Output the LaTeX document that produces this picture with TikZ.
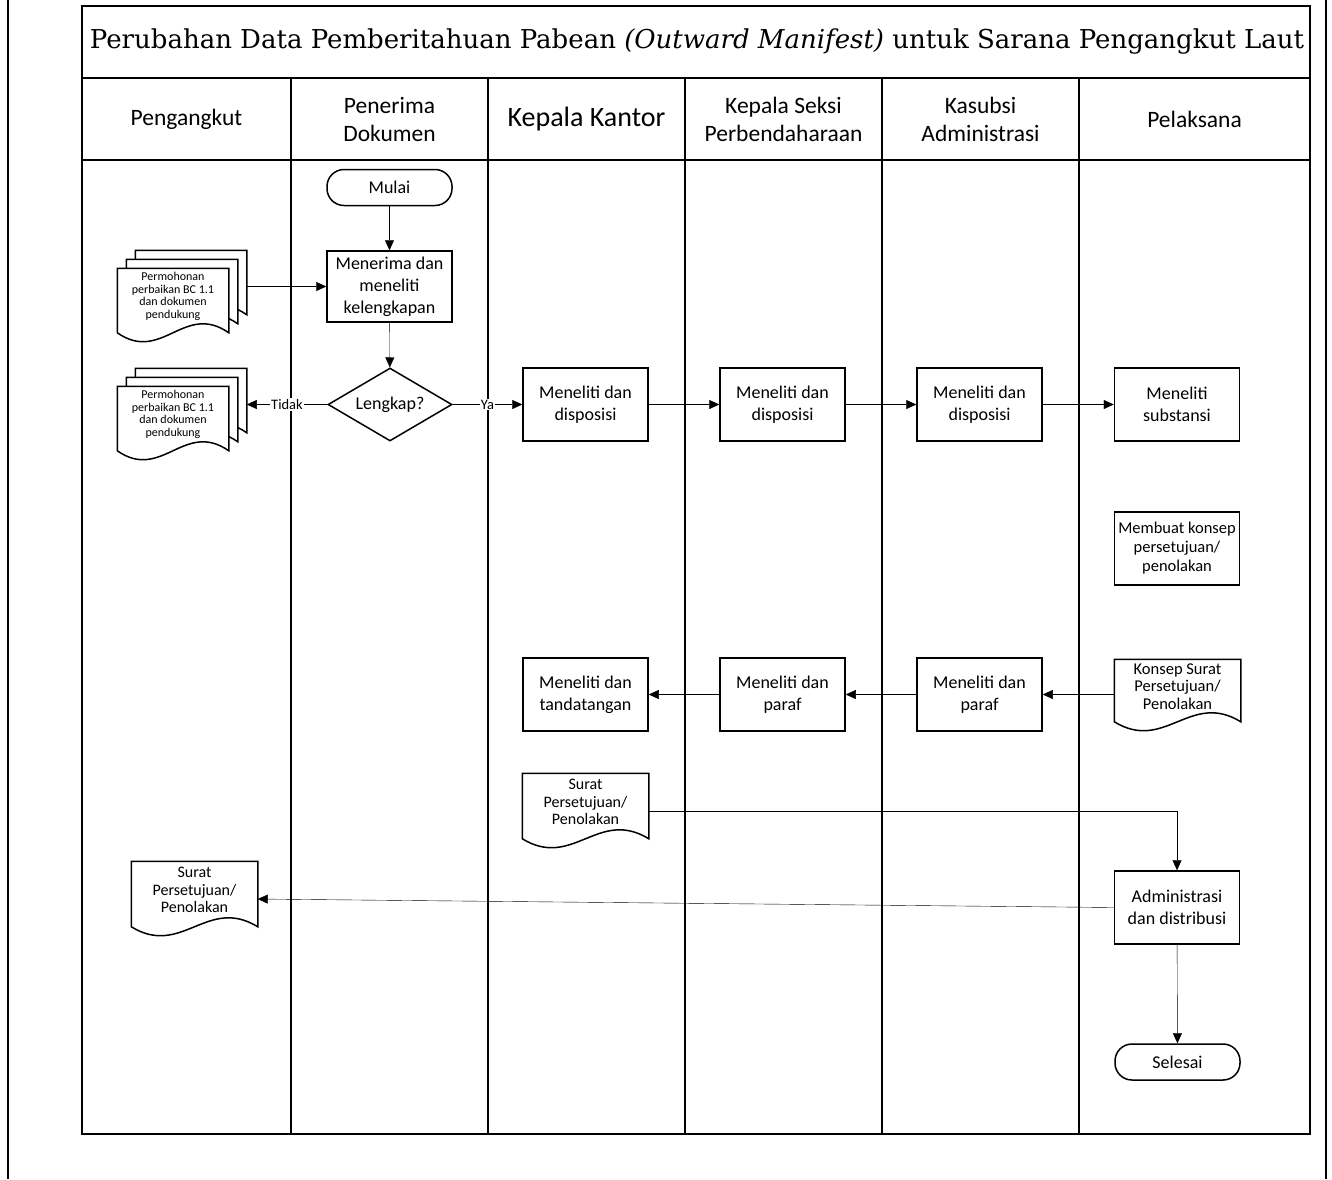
\documentclass[tikz,border=0pt]{standalone}
\usepackage{fontspec}
\setmainfont{Carlito}
\newfontfamily\titlefont{DejaVu Serif}
\usepackage{tikz}
\usetikzlibrary{positioning, shapes.geometric, arrows.meta, calc}
\pgfdeclarelayer{background}
\pgfsetlayers{background,main}

% outline of a document symbol around a node (bottom edge dropped 8pt below the text box)
\newcommand{\docshape}[1]{%
  \draw[docline] ($(#1.south west)+(0,8)$) -- (#1.north west) -- (#1.north east) -- ($(#1.south east)+(0,8)$)
    .. controls ($(#1.south east)!0.4!(#1.south west)+(0,-23)$) and ($(#1.south west)!0.4!(#1.south east)+(0,39)$) .. ($(#1.south west)+(0,8)$) -- cycle;}

\begin{document}
\begin{tikzpicture}[x=1pt, y=-1pt, >={Triangle[length=10pt,width=9pt]}, line width=1.5pt]

% Define block styles
\tikzstyle{block} = [draw, rectangle, line width=1.5pt, minimum width=125pt, minimum height=73pt, align=center, inner sep=2pt, font=\fontsize{18}{22}\selectfont]
\tikzstyle{term} = [draw, rectangle, rounded corners=17pt, line width=1.5pt, minimum width=125pt, minimum height=36pt, font=\fontsize{18}{22}\selectfont]
\tikzstyle{decision} = [draw, diamond, aspect=1.7, line width=1.5pt, minimum width=124pt, minimum height=73pt, inner sep=0pt, font=\fontsize{18}{22}\selectfont]
\tikzstyle{doc} = [rectangle, minimum width=125pt, minimum height=56pt, align=center, inner sep=1pt, font=\fontsize{16}{17.5}\selectfont]
\tikzstyle{smalldoc} = [doc, minimum width=110pt, minimum height=55pt, font=\fontsize{12}{12.5}\selectfont]
\tikzstyle{docline} = [line width=1.5pt, fill=white]
\tikzstyle{lane} = [align=center, font=\fontsize{23.5}{28}\selectfont]
\tikzstyle{tag} = [fill=white, inner sep=1pt, font=\fontsize{14.5}{15}\selectfont]

% Frame and lanes
\useasboundingbox (0,0) rectangle (1332,1179);
\draw[line width=2pt] (7.5,0) -- (7.5,1179);
\draw[line width=2pt] (1326,0) -- (1326,1179);
\draw[line width=2pt] (82,6) rectangle (1310,1134);
\draw[line width=1.6pt] (82,78) -- (1310,78);
\draw[line width=1.6pt] (82,160) -- (1310,160);
\foreach \x in {291,488,685,882,1079}
  \draw[line width=1.6pt] (\x,78) -- (\x,1134);

% Title and lane headers
\node[font=\titlefont\fontsize{26}{30}\selectfont] (title) at (697,42) {Perubahan Data Pemberitahuan Pabean \textit{(Outward Manifest)} untuk Sarana Pengangkut Laut};
\node[lane] (h1) at (186.5,119) {Pengangkut};
\node[lane] (h2) at (389.5,119) {Penerima\\Dokumen};
\node[lane, font=\fontsize{28}{32}\selectfont] (h3) at (586.5,119) {Kepala Kantor};
\node[lane] (h4) at (783.5,119) {Kepala Seksi\\Perbendaharaan};
\node[lane] (h5) at (980.5,119) {Kasubsi\\Administrasi};
\node[lane] (h6) at (1194.5,119) {Pelaksana};

% Nodes
\node[term] (mulai) at (389.5,187.5) {Mulai};
\node[block, minimum height=71pt] (terima) at (389.5,286.5) {Menerima dan\\meneliti\\kelengkapan};
\node[decision] (cek) at (390,404.5) {Lengkap?};
\node[smalldoc] (mohon1c) at (191,278.5) {};
\node[smalldoc] (mohon1b) at (182,287.5) {};
\node[smalldoc] (mohon1) at (173,296.5) {Permohonan\\perbaikan BC 1.1\\dan dokumen\\pendukung};
\node[smalldoc, below of=mohon1c, node distance=118pt] (mohon2c) {};
\node[smalldoc, below of=mohon1b, node distance=118pt] (mohon2b) {};
\node[smalldoc, below of=mohon1, node distance=118pt] (mohon2) {Permohonan\\perbaikan BC 1.1\\dan dokumen\\pendukung};
\node[block] (kk1) at (585.5,404.5) {Meneliti dan\\disposisi};
\node[block, right of=kk1, node distance=197pt] (ks1) {Meneliti dan\\disposisi};
\node[block, right of=ks1, node distance=197pt] (kb1) {Meneliti dan\\disposisi};
\node[block, right of=kb1, node distance=197.5pt] (pl1) {Meneliti\\substansi};
\node[block, below of=pl1, node distance=144pt, font=\fontsize{16.5}{19}\selectfont] (konsep) {Membuat konsep\\persetujuan/\\penolakan};
\node[doc, minimum height=53pt, font=\fontsize{16.5}{17.5}\selectfont] (draft) at (1177.5,686.5) {Konsep Surat\\Persetujuan/\\Penolakan};
\node[block] (kb2) at (979.5,694.5) {Meneliti dan\\paraf};
\node[block, left of=kb2, node distance=197pt] (ks2) {Meneliti dan\\paraf};
\node[block, left of=ks2, node distance=197pt] (kk2) {Meneliti dan\\tandatangan};
\node[doc] (surat2) at (585.5,802) {Surat\\Persetujuan/\\Penolakan};
\node[block] (admin) at (1177,907.5) {Administrasi\\dan distribusi};
\node[doc] (surat1) at (194.5,890) {Surat\\Persetujuan/\\Penolakan};
\node[term] (selesai) at (1177.5,1062) {Selesai};

% Document outlines behind the texts
\begin{pgfonlayer}{background}
  \docshape{mohon1c} \docshape{mohon1b} \docshape{mohon1}
  \docshape{mohon2c} \docshape{mohon2b} \docshape{mohon2}
  \docshape{draft} \docshape{surat2} \docshape{surat1}
\end{pgfonlayer}

% Connections
\draw[->] (mulai) -- (terima);
\draw[->] (terima) -- (cek);
\draw[->] (mohon1c.east |- terima.west) -- (terima.west); % berkas masuk
\draw[->] (cek.west) -- node[tag] (tidak) {Tidak} (mohon2c.east |- cek.west); % dikembalikan
\draw[->] (cek.east) -- node[tag] (ya) {Ya} (kk1.west);
\draw[->] (kk1) -- (ks1);
\draw[->] (ks1) -- (kb1);
\draw[->] (kb1) -- (pl1);
\draw[->] (draft.west |- kb2.east) -- (kb2.east);
\draw[->] (kb2) -- (ks2);
\draw[->] (ks2) -- (kk2);
\draw[->] ([yshift=-9pt]surat2.east) -| (admin.north);
\draw[->] (admin.west) -- ([yshift=-9pt]surat1.east); % ke pengangkut
\draw[->] (admin) -- (selesai);

\end{tikzpicture}
\end{document}
